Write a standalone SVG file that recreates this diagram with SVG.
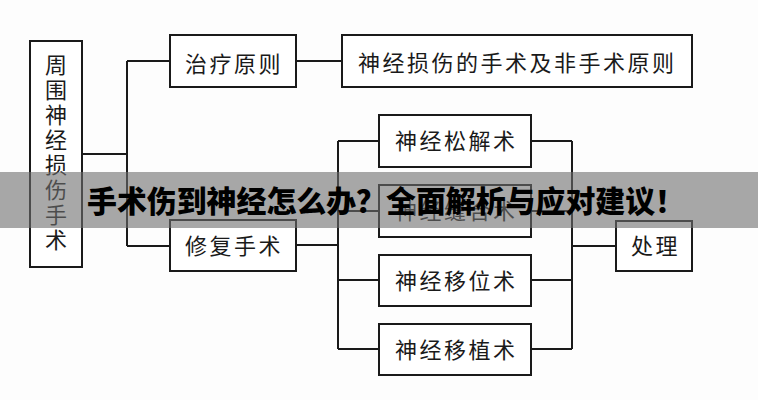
<svg xmlns="http://www.w3.org/2000/svg" width="758" height="400" viewBox="0 0 758 400">
<style>
.box{fill:#fff;stroke:#1a1a1a;stroke-width:2}
.t{font-family:"Noto Sans CJK SC","Noto Sans",sans-serif;font-size:22px;letter-spacing:2.5px;fill:#1a1a1a}
.ln{fill:none;stroke:#1a1a1a;stroke-width:2}
.title{font-family:"Noto Sans CJK SC","Noto Sans",sans-serif;font-size:30px;font-weight:900;fill:#000}
</style>
<rect x="0" y="0" width="758" height="400" fill="#fdfdfd"/>
<g id="connectors">
<path class="ln" d="M82 154H127M127 61V246M127 61H170M127 246H170M296 61H342M296 245H338M338 141V349M338 141H379M338 211H379M338 280H379M338 349H379M531 141H572M531 211H572M531 280H572M531 349H572M572 141V349M572 246H616"/>
</g>
<g id="n_root">
<rect class="box" x="30" y="41" width="52" height="226"/>
<text class="t" x="56" y="54" writing-mode="vertical-rl" style="letter-spacing:3px">周围神经损伤手术</text>
</g>
<g id="n_principle">
<rect class="box" x="170" y="35" width="126" height="52"/>
<text class="t" x="185" y="72">治疗原则</text>
</g>
<g id="n_principle_detail">
<rect class="box" x="342" y="35" width="350" height="52"/>
<text class="t" x="358" y="71">神经损伤的手术及非手术原则</text>
</g>
<g id="n_repair">
<rect class="box" x="170" y="220" width="126" height="51"/>
<text class="t" x="185" y="254">修复手术</text>
</g>
<g id="n_release">
<rect class="box" x="379" y="115" width="152" height="52"/>
<text class="t" x="395" y="149">神经松解术</text>
</g>
<g id="n_suture">
<rect class="box" x="379" y="185" width="152" height="52"/>
<text class="t" x="395" y="219">神经缝合术</text>
</g>
<g id="n_transpose">
<rect class="box" x="379" y="255" width="152" height="51"/>
<text class="t" x="395" y="289">神经移位术</text>
</g>
<g id="n_graft">
<rect class="box" x="379" y="324" width="152" height="51"/>
<text class="t" x="395" y="358">神经移植术</text>
</g>
<g id="n_treat">
<rect class="box" x="616" y="221" width="76" height="50"/>
<text class="t" x="631" y="254">处理</text>
</g>
<g id="banner">
<rect x="0" y="172" width="758" height="56" fill="#6e6e6e" fill-opacity="0.6"/>
<text class="title" x="87" y="212" textLength="598" lengthAdjust="spacingAndGlyphs">手术伤到神经怎么办？全面解析与应对建议！</text>
</g>
</svg>
